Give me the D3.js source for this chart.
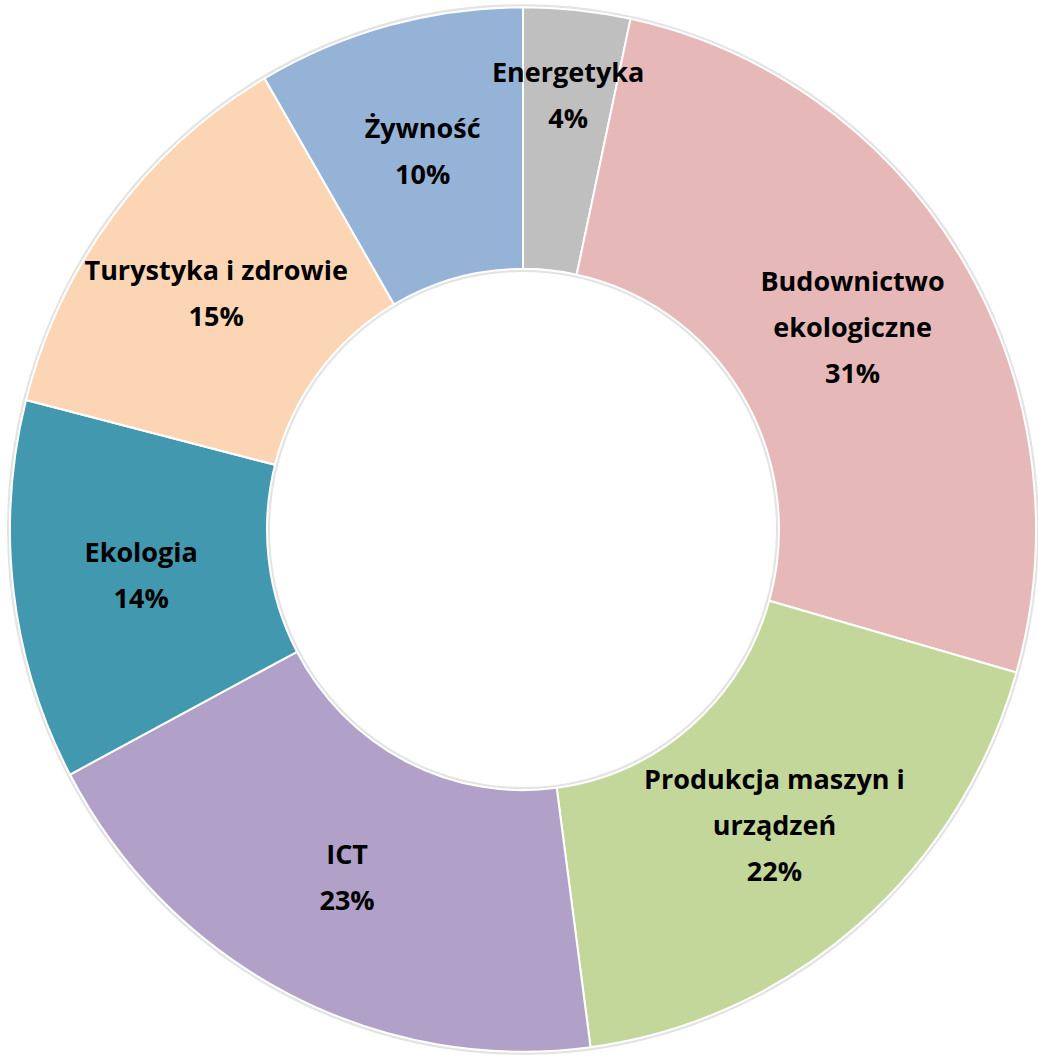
<!DOCTYPE html>
<html>
<head>
<meta charset="utf-8">
<script src="https://cdn.jsdelivr.net/npm/d3@7"></script>
<style>
  body { margin: 0; background: #fff; }
  svg text { font-family: 'Open Sans', sans-serif; font-weight: bold; }
</style>
</head>
<body>
<div class="vis-donut"></div>
<script>
const categories = ['Energetyka', 'Budownictwo ekologiczne', 'Produkcja maszyn i urządzeń', 'ICT', 'Ekologia', 'Turystyka i zdrowie', 'Żywność'];
const labelLines = [['Energetyka'], ['Budownictwo', 'ekologiczne'], ['Produkcja maszyn i', 'urządzeń'], ['ICT'], ['Ekologia'], ['Turystyka i zdrowie'], ['Żywność']];
const values = [4, 31, 22, 23, 14, 15, 10];
const colors = ['#BFBFBF', '#E6B8B7', '#C4D79B', '#B1A0C7', '#4298AE', '#FCD5B4', '#95B3D7'];

const dataset = categories.map((c, i) => ({ label: c, lines: labelLines[i], value: values[i] }));

const width = 1038, height = 1060;
const cx = 523, cy = 529.5;
const outerR = 513, innerR = 256;
const sy = 1.018; // the picture is a touch taller than wide

let root = d3.select('.vis-donut')
    .append('svg')
    .attr('width', width)
    .attr('height', height)
    .append('g')
    .attr('transform', 'translate(' + cx + ',' + cy + ')');

let ring = root.append('g')
    .attr('transform', 'scale(1,' + sy + ')');

let color = d3.scaleOrdinal()
    .domain(categories)
    .range(colors);

let pie = d3.pie()
    .value(d => d.value)
    .sort(null);

let arc = d3.arc()
    .innerRadius(innerR)
    .outerRadius(outerR);

// small slices get their label pushed outward, like Excel does
let labelArc = d3.arc()
    .innerRadius(outerR - 85)
    .outerRadius(outerR - 85);

const arcs = pie(dataset);

// faint shadow round the ring
ring.append('circle').attr('r', outerR + 1.5).attr('fill', 'none').attr('stroke', '#e3e3e3').attr('stroke-width', 3);
ring.append('circle').attr('r', innerR - 1.5).attr('fill', 'none').attr('stroke', '#e3e3e3').attr('stroke-width', 3);

ring.selectAll('path')
    .data(arcs)
    .enter()
    .append('path')
    .attr('d', arc)
    .attr('fill', d => color(d.data.label))
    .attr('stroke', '#fff')
    .attr('stroke-width', 2);

const lineH = 46;
const labels = root.selectAll('.label')
    .data(arcs)
    .enter().append('text')
    .attr('class', 'label')
    .attr('text-anchor', 'middle')
    .attr('font-size', 27)
    .attr('fill', '#000')
    .attr('transform', d => {
        const small = (d.endAngle - d.startAngle) < 0.3;
        const p = small ? labelArc.centroid(d) : arc.centroid(d);
        return 'translate(' + p[0] + ',' + (p[1] * sy) + ')';
    });

labels.each(function (d) {
    const lines = d.data.lines.concat([d.data.value + '%']);
    const t = d3.select(this);
    const y0 = -(lines.length - 1) * lineH / 2 + 9;
    lines.forEach((l, i) => {
        t.append('tspan').attr('x', 0).attr('y', y0 + i * lineH).text(l);
    });
});
</script>
</body>
</html>
